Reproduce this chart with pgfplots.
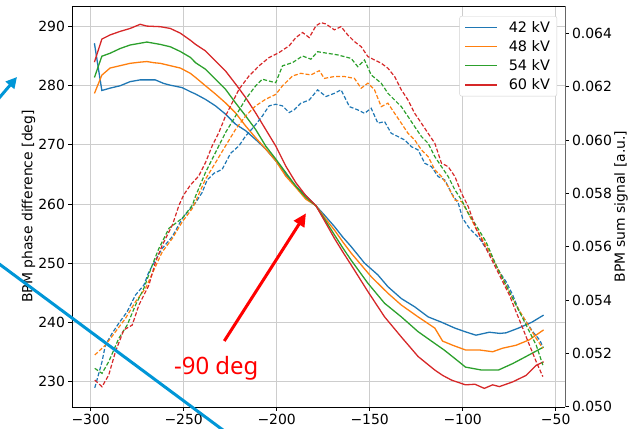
\documentclass[border=0pt]{standalone}
\usepackage{pgfplots}
\pgfplotsset{compat=1.18}
\usepackage{fontspec}
\setmainfont{DejaVu Sans}
\newfontfamily\notosans{Noto Sans}
\usetikzlibrary{arrows.meta}
\definecolor{mplblue}{HTML}{1F77B4}
\definecolor{mplorange}{HTML}{FF7F0E}
\definecolor{mplgreen}{HTML}{2CA02C}
\definecolor{mplred}{HTML}{D62728}
\definecolor{annblue}{RGB}{0,150,215}
\definecolor{gridc}{RGB}{205,205,205}
\pgfplotsset{
 common/.style={
  scale only axis, width=493bp, height=401bp,
  xmin=-310.05, xmax=-45,
  tick align=outside, major tick length=3.5bp,
  every tick/.style={black, line width=0.8bp},
  tick label style={font=\fontsize{14}{16}\selectfont},
  label style={font=\fontsize{14}{16}\selectfont},
  /pgf/number format/assume math mode=true,
 },
 sol/.style={line width=1.3bp, no markers},
 das/.style={line width=1.2bp, no markers, dash pattern=on 4bp off 2bp},
}
\begin{document}
\begin{tikzpicture}
\useasboundingbox (-72bp,-22bp) rectangle (556bp,407bp);
\begin{axis}[common,
 axis x line*=box, axis y line*=left, xtick pos=bottom,
 axis line style={black, line width=0.8bp},
 ymin=225.65, ymax=293.5,
 xtick={-300,-250,-200,-150,-100,-50},
 xticklabels={−300,−250,−200,−150,−100,−50},
 ytick={230,240,250,260,270,280,290},
 grid=major, major grid style={gridc, line width=0.8bp},
 ylabel={BPM phase difference [deg]},
 ylabel style={at={(axis description cs:-0.0882,0.5)}, anchor=center},
]
% 42 kV phase
\addplot[sol, mplblue] coordinates {
(-298,287.2) (-294,279.2) (-289.6,279.6) (-284.2,280.0) (-278.8,280.7) (-273.4,281.0) (-269.8,281.0) (-265.3,281.0) (-260.8,280.4) (-257.2,280.1) (-250.9,279.7) (-246.4,279.0) (-243.6,278.6) (-238.3,277.7) (-232.9,276.6) (-227.5,275.2) (-222.1,273.5) (-216.7,272.4) (-211.3,270.9) (-205.9,269.3) (-200.5,267.3) (-195.1,265.0) (-189.7,263.0) (-184.3,261.4) (-178.9,259.7) (-174,258.0) (-169.0,256.2) (-164.5,254.4) (-160.0,252.8) (-152.8,250.0) (-145.6,248.0) (-140.2,246.0) (-133.0,244.0) (-125.8,242.6) (-118.6,240.9) (-111.4,240.0) (-104.2,239.0) (-98.8,238.4) (-92.9,237.8) (-85.7,238.3) (-80,238.1) (-76.7,238.2) (-70.0,239.0) (-62.8,240.0) (-56.5,241.2)};
% 48 kV phase
\addplot[sol, mplorange] coordinates {
(-298,278.7) (-294,281.8) (-289.6,283.0) (-284.2,283.4) (-278.8,283.8) (-273.4,284.0) (-269.8,284.1) (-266,283.9) (-262.6,283.8) (-257.2,283.4) (-251.8,283.0) (-246.4,282.1) (-243.6,281.4) (-238.3,280.0) (-232.9,278.6) (-227.5,277.1) (-222.1,275.4) (-216.7,273.2) (-211.3,271.2) (-205.9,269.3) (-200.5,267.3) (-195.1,264.7) (-189.7,262.8) (-184.3,260.8) (-178.9,259.7) (-174,257.6) (-169.0,255.6) (-164.5,253.6) (-160.0,251.7) (-149.2,247.7) (-140.2,244.9) (-133.0,242.9) (-124.0,240.9) (-115.0,239.0) (-110.8,236.8) (-105.4,236.1) (-98.5,235.3) (-91,235.3) (-83.9,235.0) (-78.5,235.6) (-71.3,236.1) (-64.3,237.0) (-56.5,238.7)};
% 54 kV phase
\addplot[sol, mplgreen] coordinates {
(-298,281.4) (-294,285.0) (-289.6,285.5) (-284.2,286.3) (-278.8,286.9) (-273.4,287.2) (-269.8,287.4) (-262.6,287.0) (-257.2,286.6) (-251.8,285.8) (-246.4,284.8) (-243.6,283.9) (-238.3,282.8) (-232.9,281.1) (-227.5,279.4) (-222.1,277.1) (-216.7,274.9) (-211.3,272.6) (-205.9,269.8) (-200.5,267.6) (-195.1,265.3) (-189.7,263.0) (-184.3,261.1) (-178.9,259.7) (-174,257.3) (-169.0,254.8) (-164.5,252.6) (-160.0,250.5) (-151.0,246.6) (-142.0,243.2) (-133.0,240.9) (-124.0,238.4) (-115.0,236.4) (-110,235.3) (-104,233.8) (-98.5,232.4) (-89.8,231.9) (-80.8,231.9) (-73.1,233.0) (-65.9,234.2) (-56.5,235.8)};
% 60 kV phase
\addplot[sol, mplred] coordinates {
(-298,284.0) (-294,287.9) (-289.6,288.6) (-284.2,289.2) (-278.8,289.7) (-273.4,290.4) (-269.8,290.1) (-262.6,290.0) (-257.2,289.7) (-251.8,288.9) (-246.4,287.7) (-243.6,287.0) (-238.3,285.9) (-232.9,284.2) (-227.5,282.5) (-222.1,280.3) (-216.7,278.0) (-211.3,275.4) (-205.9,272.6) (-200.5,269.8) (-195.1,266.4) (-189.7,263.6) (-184.3,261.4) (-178.9,259.7) (-174,257.0) (-169.0,254.2) (-164.5,251.9) (-160.0,249.7) (-151.0,245.2) (-142.0,240.9) (-133.0,237.5) (-124.0,234.2) (-115.0,231.9) (-110.8,231.0) (-106.0,230.2) (-98.5,229.4) (-93.4,229.5) (-88.4,228.8) (-83.9,229.4) (-80.3,229.1) (-73.1,229.9) (-65.9,231.0) (-60.5,232.7) (-56.5,233.3)};
\end{axis}
\begin{axis}[common, clip=false,
 axis x line=none, axis y line*=right,
 y axis line style={black!60, line width=0.8bp},
 ymin=0.04999, ymax=0.065024,
 ytick={0.050,0.052,0.054,0.056,0.058,0.060,0.062,0.064},
 yticklabels={0.050,0.052,0.054,0.056,0.058,0.060,0.062,0.064},
 ylabel={BPM sum signal [a.u.]},
 ylabel style={at={(axis description cs:1.1136,0.5)}, anchor=center},
 legend style={at={(axis description cs:0.9838,0.975)}, anchor=north east,
   draw=black!18, rounded corners=2bp, fill=white,
   inner xsep=4.8bp, inner ysep=3bp, font=\fontsize{14.5}{16}\selectfont,
   row sep=2.7bp, nodes={inner sep=2bp, text depth=0.15em},
   /tikz/every odd column/.append style={column sep=9bp}},
 legend cell align=left,
 legend image code/.code={\draw[#1] (0bp,0bp) -- (32bp,0bp);},
]
% 42 kV sum
\addplot[das, mplblue, forget plot] coordinates {
(-297.8,0.05071) (-293.9,0.05169) (-292.1,0.05231) (-288.5,0.05275) (-284.9,0.05313) (-280.4,0.05356) (-275.9,0.05419) (-271.4,0.05456) (-268.7,0.05506) (-265.1,0.05550) (-261.5,0.05594) (-256.1,0.05638) (-250.7,0.05707) (-246,0.05745) (-243.6,0.05765) (-240.1,0.05803) (-237.4,0.0585) (-233.8,0.05875) (-229.3,0.05890) (-224.8,0.0595) (-220.3,0.05978) (-216.7,0.06015) (-212.2,0.0605) (-207.7,0.06090) (-204.1,0.06128) (-200.5,0.06134) (-196.9,0.06128) (-193.3,0.06103) (-190.6,0.06113) (-187.0,0.06138) (-182.5,0.0615) (-178.0,0.06188) (-173.5,0.06163) (-169.0,0.06175) (-165.4,0.06188) (-160.9,0.06125) (-156.4,0.06113) (-152.8,0.06100) (-149.2,0.06119) (-145.6,0.06063) (-142.0,0.06069) (-138.4,0.06025) (-134.8,0.06013) (-131.2,0.06000) (-127.6,0.05975) (-124.0,0.05963) (-120.4,0.05913) (-116.8,0.05900) (-113.2,0.05863) (-109.6,0.05850) (-106.0,0.05800) (-102.4,0.05763) (-100.0,0.05706) (-96.4,0.05669) (-91.0,0.05631) (-87.5,0.05594) (-83.9,0.05556) (-80.3,0.05506) (-76.7,0.05469) (-73.1,0.05419) (-69.5,0.05356) (-65.9,0.05319) (-62.3,0.05281) (-58.6,0.05250) (-56.9,0.05225)};
% 48 kV sum
\addplot[das, mplorange, forget plot] coordinates {
(-297.8,0.05194) (-292.1,0.05231) (-286.7,0.05281) (-281.3,0.05331) (-275.9,0.05394) (-270.5,0.05444) (-266.0,0.05513) (-261.5,0.05581) (-256.1,0.05631) (-250.7,0.05694) (-245.3,0.05744) (-243.6,0.0577) (-238.3,0.05853) (-232.9,0.05915) (-227.5,0.05978) (-222.1,0.06040) (-216.7,0.06090) (-211.3,0.06128) (-205.9,0.06153) (-200.5,0.06171) (-196.9,0.06203) (-191.5,0.06240) (-187.0,0.06250) (-181.6,0.06244) (-177.1,0.06260) (-174.4,0.06231) (-169.0,0.06238) (-163.6,0.06238) (-158.2,0.06231) (-154.6,0.06194) (-151.0,0.06213) (-147.4,0.06188) (-143.8,0.06125) (-140.2,0.06138) (-136.6,0.06100) (-133.0,0.06063) (-129.4,0.06025) (-125.8,0.06000) (-122.2,0.05963) (-118.6,0.05938) (-115.0,0.05888) (-111.4,0.05863) (-107.8,0.05825) (-104.2,0.05775) (-100.6,0.05769) (-97.0,0.05725) (-92.9,0.05669) (-87.5,0.05606) (-82.1,0.05531) (-76.7,0.05456) (-71.3,0.05381) (-65.9,0.05319) (-60.5,0.05256) (-56.9,0.05219)};
% 54 kV sum
\addplot[das, mplgreen, forget plot] coordinates {
(-297.8,0.05144) (-293.9,0.05125) (-290.3,0.05169) (-284.9,0.05256) (-280.4,0.05306) (-275.9,0.05381) (-271.4,0.05444) (-266.9,0.05531) (-263.3,0.05594) (-257.9,0.05669) (-250.7,0.05707) (-245.3,0.05756) (-243.6,0.05790) (-238.3,0.05878) (-232.9,0.05953) (-227.5,0.06028) (-222.1,0.06090) (-216.7,0.06153) (-211.3,0.06203) (-207.7,0.06228) (-204.1,0.06221) (-200.5,0.06215) (-196.9,0.06278) (-191.5,0.06290) (-186.1,0.06315) (-181.6,0.06303) (-178.0,0.06331) (-172.6,0.06325) (-167.2,0.06319) (-160.0,0.06306) (-156.4,0.06275) (-152.8,0.06300) (-149.2,0.06244) (-143.8,0.06213) (-140.2,0.06175) (-136.6,0.06150) (-133.0,0.06125) (-129.4,0.06088) (-125.8,0.06050) (-122.2,0.06013) (-118.6,0.05988) (-115.0,0.05938) (-111.4,0.05900) (-107.8,0.05863) (-104.2,0.05813) (-100.6,0.05775) (-97.0,0.05725) (-92.9,0.05681) (-87.5,0.05619) (-82.1,0.05531) (-76.7,0.05456) (-71.3,0.05381) (-65.9,0.05306) (-60.5,0.05231) (-56.9,0.05156)};
% 60 kV sum
\addplot[das, mplred, forget plot] coordinates {
(-297.8,0.05100) (-293.9,0.05075) (-290.3,0.05119) (-286.7,0.05206) (-282.2,0.05288) (-277.7,0.05306) (-274.1,0.05381) (-268.7,0.05456) (-265.1,0.05544) (-261.5,0.05606) (-256.1,0.05681) (-252.5,0.05756) (-250.0,0.05794) (-246.4,0.05831) (-241.9,0.05865) (-238.3,0.05915) (-234.7,0.05978) (-231.1,0.06028) (-227.5,0.06090) (-223.9,0.06140) (-220.3,0.06190) (-214.9,0.06240) (-209.5,0.06278) (-204.1,0.06309) (-198.7,0.06328) (-193.3,0.06353) (-189.7,0.06384) (-186.1,0.06403) (-182.5,0.06384) (-178.9,0.06428) (-176.2,0.06440) (-173.5,0.06435) (-169.0,0.06413) (-165.4,0.06425) (-161.8,0.06394) (-158.2,0.06369) (-154.6,0.06350) (-151.0,0.06313) (-147.4,0.06300) (-143.8,0.06288) (-140.2,0.06269) (-136.6,0.06238) (-133.0,0.06188) (-129.4,0.06150) (-125.8,0.06100) (-122.2,0.06063) (-118.6,0.06025) (-115.0,0.05988) (-111.4,0.05913) (-107.8,0.05900) (-104.2,0.05863) (-100.6,0.05800) (-97.0,0.05750) (-92.9,0.05669) (-89.3,0.05619) (-85.7,0.05569) (-82.1,0.05519) (-78.5,0.05469) (-74.9,0.05419) (-71.3,0.05356) (-67.7,0.05294) (-64.1,0.05231) (-60.5,0.05169) (-56.9,0.05113)};
\addlegendimage{mplblue, line width=1.3bp}\addlegendentry{42 kV}
\addlegendimage{mplorange, line width=1.3bp}\addlegendentry{48 kV}
\addlegendimage{mplgreen, line width=1.3bp}\addlegendentry{54 kV}
\addlegendimage{mplred, line width=1.3bp}\addlegendentry{60 kV}
\draw[red, line width=3bp, -{Triangle[length=13bp, width=12bp]}] (rel axis cs:0.3089,0.1646) -- (rel axis cs:0.4746,0.4830);
\node[red, font=\notosans\fontsize{24}{28}\selectfont, anchor=base, inner sep=0pt] at (rel axis cs:0.2927,0.0798) {-90 deg};
\draw[annblue, line width=3bp] (rel axis cs:-0.16,0.368) -- (rel axis cs:0.32,-0.07);
\draw[annblue, line width=3bp, -{Triangle[length=11bp, width=11bp]}] (rel axis cs:-0.1623,0.7496) -- (rel axis cs:-0.11156,0.82294);
\end{axis}
\end{tikzpicture}
\end{document}
